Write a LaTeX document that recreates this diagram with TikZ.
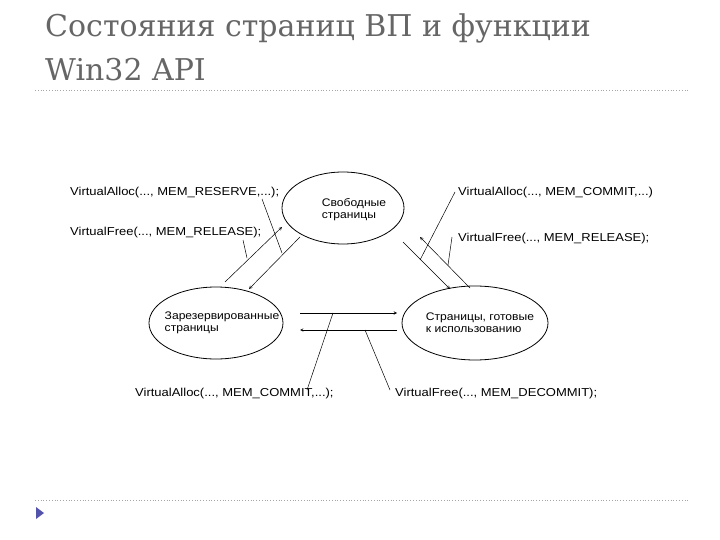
\documentclass[tikz,border=0pt]{standalone}
\usepackage{fontspec}
\usetikzlibrary{shapes.geometric}
\setmainfont{Liberation Sans}
\newfontfamily\titlefont{DejaVu Serif}
\begin{document}
\begin{tikzpicture}[x=1pt,y=-1pt,
  st/.style={draw,ellipse,line width=0.8pt,inner sep=0pt},
  stt/.style={font=\fontsize{11}{12}\selectfont,align=left,xscale=1.1},
  lbl/.style={font=\fontsize{11.5}{12}\selectfont,inner sep=0pt,anchor=west,xscale=1.13},
  arr/.style={->,>=stealth,line width=0.5pt},
  ln/.style={line width=0.5pt}]
\useasboundingbox (0,0) rectangle (720,540);
\node[anchor=west,text=black!60,inner sep=0pt,align=left,font=\titlefont\fontsize{30}{44}\selectfont] (title) at (45,47) {Состояния страниц ВП и функции\\Win32 API};
\draw[black!35,dotted,line width=0.8pt] (35,90) -- (690,90);
\draw[black!35,dotted,line width=0.8pt] (35,500) -- (690,500);
\fill[blue!35!gray] (36,507) -- (44,513) -- (36,519) -- cycle;
\node[st,minimum width=122,minimum height=72] (free) at (343,208) {};
\node[stt] (freet) at (354,210) {Свободные\\страницы};
\node[st,minimum width=134,minimum height=72] (res) at (216,323) {};
\node[stt] (rest) at (222,323) {Зарезервированные\\страницы};
\node[st,minimum width=146,minimum height=74] (com) at (475,323) {};
\node[stt] (comt) at (480,323) {Страницы, готовые\\к использованию};
% arrows
\coordinate (a1) at (225,282); \coordinate (a2) at (282,227);
\draw[arr] (a1) -- (a2);
\coordinate (b1) at (300,237); \coordinate (b2) at (249,289);
\draw[arr] (b1) -- (b2);
\coordinate (c1) at (403,242); \coordinate (c2) at (450,289);
\draw[arr] (c1) -- (c2);
\coordinate (d1) at (470,288); \coordinate (d2) at (420,237);
\draw[arr] (d1) -- (d2);
\coordinate (e1) at (300,313); \coordinate (e2) at (397,313);
\draw[arr] (e1) -- (e2);
\coordinate (f1) at (397,330); \coordinate (f2) at (300,330);
\draw[arr] (f1) -- (f2);
% labels
\node[lbl] (l1) at (70,193) {VirtualAlloc(..., MEM\_RESERVE,...);};
\node[lbl] (l2) at (70,233) {VirtualFree(..., MEM\_RELEASE);};
\node[lbl] (l3) at (458,193) {VirtualAlloc(..., MEM\_COMMIT,...)};
\node[lbl] (l4) at (458,239) {VirtualFree(..., MEM\_RELEASE);};
\node[lbl] (l5) at (135,394) {VirtualAlloc(..., MEM\_COMMIT,...);};
\node[lbl] (l6) at (395,394) {VirtualFree(..., MEM\_DECOMMIT);};
\coordinate (p1) at (282,253); \draw[ln] (262,199) -- (p1);
\coordinate (p2) at (247,258); \draw[ln] (243,240) -- (p2);
\coordinate (p3) at (420,260); \draw[ln] (455,192) -- (p3);
\coordinate (p4) at (448,265); \draw[ln] (452,237) -- (p4);
\coordinate (p5) at (333,313); \draw[ln] (307,390) -- (p5);
\coordinate (p6) at (365,330); \draw[ln] (390,390) -- (p6);
\end{tikzpicture}
\end{document}
